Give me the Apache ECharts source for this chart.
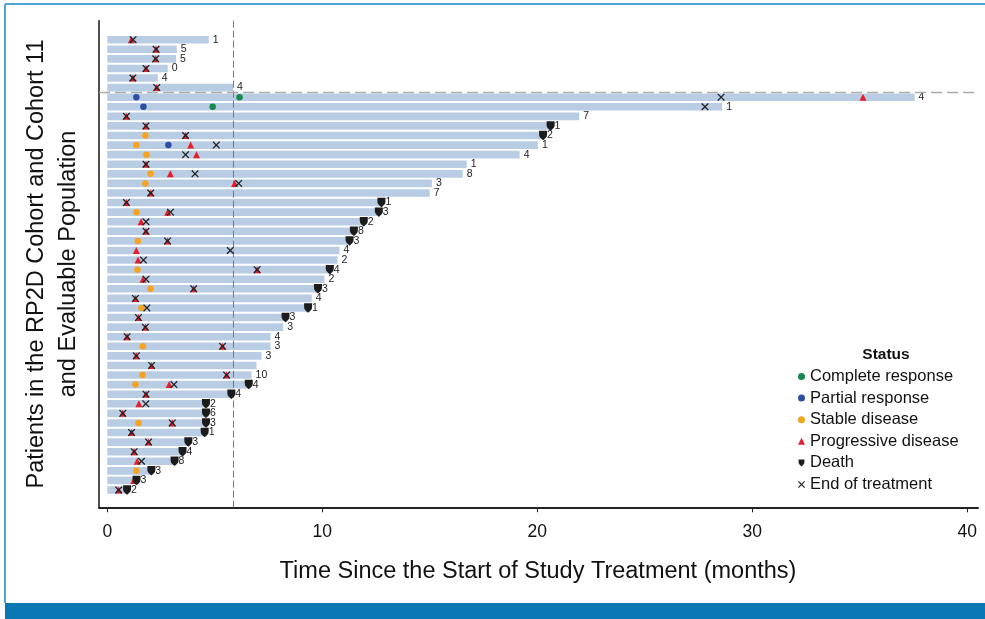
<!DOCTYPE html>
<html><head><meta charset="utf-8">
<script src="https://cdn.jsdelivr.net/npm/echarts@6/dist/echarts.min.js"></script>
<style>html,body{margin:0;padding:0;background:#fff}#c{width:985px;height:619px}</style>
</head><body><div id="c"></div>
<script>
// ---- data ----
const patients = ['1','2','3','4','5','6','7','8','9','10','11','12','13','14','15','16','17','18','19','20','21','22','23','24','25','26','27','28','29','30','31','32','33','34','35','36','37','38','39','40','41','42','43','44','45','46','47','48'];
const barLength = [4.72,3.23,3.2,2.81,2.35,5.85,37.55,28.6,21.95,20.62,20.27,20.03,19.18,16.72,16.53,15.1,15.0,12.75,12.63,11.93,11.47,11.27,10.8,10.71,10.35,10.1,9.8,9.51,9.34,8.29,8.18,7.59,7.59,7.17,6.94,6.71,6.58,5.77,4.59,4.59,4.59,4.53,3.77,3.5,3.13,2.05,1.36,0.92];
const barLabel = ['1','5','5','0','4','4','4','1','7','1','2','1','4','1','8','3','7','1','3','2','8','3','4','2','4','2','3','4','1','3','3','4','3','3','','10','4','4','2','6','3','1','3','4','8','3','3','2'];
// [months, patient row (1-based)]
const completeResponse = [[6.15,7],[4.9,8]];
const partialResponse = [[1.35,7],[1.68,8],[2.84,12]];
const stableDisease = [[1.77,11],[1.35,12],[1.82,13],[2.01,15],[1.77,16],[1.36,19],[1.42,22],[1.4,25],[2.01,27],[1.59,29],[1.66,33],[1.64,36],[1.31,37],[1.45,41],[1.36,46]];
const progressiveDisease = [[1.12,1],[2.27,2],[2.25,3],[1.8,4],[1.19,5],[2.3,6],[35.15,7],[0.89,9],[1.8,10],[3.64,11],[3.88,12],[4.15,13],[1.8,14],[2.93,15],[5.92,16],[2.02,17],[0.89,18],[2.81,19],[1.57,20],[1.8,21],[2.8,22],[1.35,23],[1.43,24],[6.97,25],[1.66,26],[4.02,27],[1.31,28],[1.45,30],[1.77,31],[0.92,32],[5.36,33],[1.35,34],[2.06,35],[5.55,36],[2.88,37],[1.8,38],[1.47,39],[0.72,40],[3.02,41],[1.13,42],[1.92,43],[1.25,44],[1.39,45],[1.23,47],[0.53,48]];
const death = [[20.62,10],[20.27,11],[12.75,18],[12.63,19],[11.93,20],[11.47,21],[11.27,22],[10.35,25],[9.8,27],[9.34,29],[8.29,30],[6.58,37],[5.77,38],[4.59,39],[4.59,40],[4.59,41],[4.53,42],[3.77,43],[3.5,44],[3.13,45],[2.05,46],[1.36,47],[0.92,48]];
const endOfTreatment = [[1.2,1],[2.27,2],[2.25,3],[1.8,4],[1.19,5],[2.3,6],[28.55,7],[27.8,8],[0.89,9],[1.8,10],[3.64,11],[5.07,12],[3.64,13],[1.8,14],[4.08,15],[6.11,16],[2.02,17],[0.89,18],[2.94,19],[1.8,20],[1.8,21],[2.8,22],[5.72,23],[1.68,24],[6.97,25],[1.8,26],[4.02,27],[1.31,28],[1.84,29],[1.45,30],[1.77,31],[0.92,32],[5.36,33],[1.35,34],[2.06,35],[5.55,36],[3.1,37],[1.8,38],[1.79,39],[0.72,40],[3.02,41],[1.13,42],[1.92,43],[1.25,44],[1.59,45],[0.53,48]];
const xTicks = [0,10,20,30,40];
const cutoffMonths = 5.87;
const cohortSplitRow = 6.5;

// ---- chart ----
const FONT = '"Liberation Sans", Arial, Helvetica, sans-serif';
const X_MIN = -0.386, X_MAX = 40.5;
const Y_MIN = -0.983, Y_MAX = 49.81;
const deathPath = 'path://M0,0 L10,0 L10,5 C10,8 7.5,10 5,12 C2.5,10 0,8 0,5 Z';
const crossPath = 'path://M0,1.2 L1.2,0 L5,3.8 L8.8,0 L10,1.2 L6.2,5 L10,8.8 L8.8,10 L5,6.2 L1.2,10 L0,8.8 L3.8,5 Z';
const toCat = arr => arr.map(d => [d[0], d[1] - 1]);

const chart = echarts.init(document.getElementById('c'), null, {renderer: 'canvas'});
const option = {
  animation: false,
  backgroundColor: '#fff',
  textStyle: {fontFamily: FONT},
  grid: [
    {left: 99, right: 7, top: 20.7, bottom: 111.7, containLabel: false},
    {left: 99, right: 7, top: 34.9, bottom: 124.2, containLabel: false}
  ],
  xAxis: [
    {type: 'value', gridIndex: 0, min: X_MIN, max: X_MAX, position: 'bottom',
     axisLine: {show: true, onZero: false, lineStyle: {color: '#222', width: 2}},
     axisTick: {show: true, customValues: xTicks, length: 5, lineStyle: {color: '#222', width: 1}},
     axisLabel: {show: true, customValues: xTicks, margin: 16, fontSize: 17.5, color: '#111', fontFamily: FONT},
     splitLine: {show: false}},
    {type: 'value', gridIndex: 1, min: X_MIN, max: X_MAX, show: false, splitLine: {show: false}}
  ],
  yAxis: [
    {type: 'value', gridIndex: 0, inverse: true, min: Y_MIN, max: Y_MAX, position: 'left',
     axisLine: {show: true, onZero: false, lineStyle: {color: '#222', width: 1.6}},
     axisTick: {show: false}, axisLabel: {show: false}, splitLine: {show: false}},
    {type: 'category', gridIndex: 1, inverse: true, data: patients, show: false}
  ],
  legend: {
    data: [
      {name: 'Complete response', icon: 'circle'},
      {name: 'Partial response', icon: 'circle'},
      {name: 'Stable disease', icon: 'circle'},
      {name: 'Progressive disease', icon: 'triangle'},
      {name: 'Death', icon: deathPath},
      {name: 'End of treatment', icon: crossPath}
    ],
    orient: 'vertical', left: 798, top: 368, padding: 0, itemWidth: 7, itemHeight: 7, itemGap: 4.6,
    textStyle: {fontSize: 16.5, lineHeight: 17, color: '#111', fontFamily: FONT},
    selectedMode: false
  },
  graphic: [
    {type: 'rect', shape: {x: 5, y: 603, width: 980, height: 16}, style: {fill: '#0a77b5'}, silent: true},
    {type: 'line', shape: {x1: 5, y1: 4, x2: 985, y2: 4}, style: {stroke: '#4fa6d6', lineWidth: 2}, silent: true},
    {type: 'line', shape: {x1: 5, y1: 4, x2: 5, y2: 603}, style: {stroke: '#4fa6d6', lineWidth: 2}, silent: true},
    {type: 'text', x: 886, y: 355, style: {text: 'Status', font: 'bold 15.5px ' + FONT, fill: '#111', textAlign: 'center', textVerticalAlign: 'middle'}},
    {type: 'text', x: 538, y: 572, style: {text: 'Time Since the Start of Study Treatment (months)', font: '23.5px ' + FONT, fill: '#111', textAlign: 'center', textVerticalAlign: 'middle'}},
    {type: 'text', x: 37, y: 264, rotation: Math.PI / 2, style: {text: 'Patients in the RP2D Cohort and Cohort 11', font: '23.5px ' + FONT, fill: '#111', textAlign: 'center', textVerticalAlign: 'middle'}},
    {type: 'text', x: 69, y: 264, rotation: Math.PI / 2, style: {text: 'and Evaluable Population', font: '23.5px ' + FONT, fill: '#111', textAlign: 'center', textVerticalAlign: 'middle'}}
  ],
  series: [
    {type: 'bar', xAxisIndex: 1, yAxisIndex: 1, data: barLength, barWidth: 7.6, z: 2,
     itemStyle: {color: '#b8cde4'},
     label: {show: true, position: 'right', distance: 4, fontSize: 10.5, color: '#222', fontFamily: FONT,
             formatter: p => barLabel[p.dataIndex]}},
    {type: 'line', xAxisIndex: 0, yAxisIndex: 0, data: [[cutoffMonths, Y_MIN], [cutoffMonths, Y_MAX]],
     symbol: 'none', silent: true, z: 3, lineStyle: {color: '#777', width: 1, type: [7, 3]}},
    {type: 'line', xAxisIndex: 0, yAxisIndex: 0, data: [[X_MIN, cohortSplitRow], [X_MAX, cohortSplitRow]],
     symbol: 'none', silent: true, z: 3, lineStyle: {color: '#aaa', width: 1.5, type: [11, 5]}},
    {name: 'Complete response', type: 'scatter', xAxisIndex: 1, yAxisIndex: 1, data: toCat(completeResponse),
     symbol: 'circle', symbolSize: 6.5, z: 4, itemStyle: {color: '#168a4c', opacity: 1}},
    {name: 'Partial response', type: 'scatter', xAxisIndex: 1, yAxisIndex: 1, data: toCat(partialResponse),
     symbol: 'circle', symbolSize: 6.5, z: 4, itemStyle: {color: '#2c4fa1', opacity: 1}},
    {name: 'Stable disease', type: 'scatter', xAxisIndex: 1, yAxisIndex: 1, data: toCat(stableDisease),
     symbol: 'circle', symbolSize: 6.5, z: 4, itemStyle: {color: '#f6a321', opacity: 1}},
    {name: 'Progressive disease', type: 'scatter', xAxisIndex: 1, yAxisIndex: 1, data: toCat(progressiveDisease),
     symbol: 'triangle', symbolSize: 7, z: 5, itemStyle: {color: '#e3202a', opacity: 1}},
    {name: 'Death', type: 'scatter', xAxisIndex: 1, yAxisIndex: 1, data: toCat(death),
     symbol: deathPath, symbolSize: [8, 9.5], z: 6, itemStyle: {color: '#1c1c1c', opacity: 1}},
    {name: 'End of treatment', type: 'scatter', xAxisIndex: 1, yAxisIndex: 1, data: toCat(endOfTreatment),
     symbol: crossPath, symbolSize: 7.5, z: 7, itemStyle: {color: '#222', opacity: 1}}
  ]
};
chart.setOption(option);
</script>
</body></html>
